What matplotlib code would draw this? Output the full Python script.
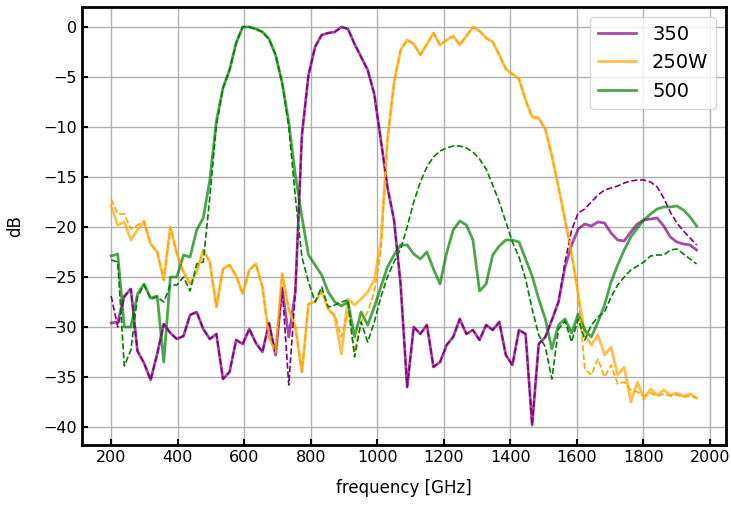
import matplotlib
matplotlib.use("Agg")
import matplotlib.pyplot as plt
import numpy as np

# frequency grid (90 points from 200 to 1960 GHz)
freq = np.linspace(200, 1960, 90)

# measured (solid) and simulated (dashed) transmission in dB
p350 = [-29.6, -29.5, -26.9, -26.2, -32.4, -33.6, -35.3, -32.7, -29.7, -30.6,
        -31.2, -30.9, -28.8, -28.5, -30.2, -31.2, -30.7, -35.2, -34.5, -31.3,
        -31.7, -30.2, -31.6, -32.5, -29.6, -32.8, -26.1, -31.0, -26.5, -10.8,
        -4.8, -2.0, -0.8, -0.6, -0.5, 0.0, -0.2, -1.7, -3.0, -4.3,
        -6.7, -11.3, -16.0, -19.3, -25.7, -36.0, -30.0, -30.7, -29.8, -34.0,
        -33.5, -31.8, -31.0, -29.2, -30.7, -30.3, -31.3, -29.8, -30.3, -29.5,
        -32.8, -33.8, -30.3, -30.7, -39.8, -31.7, -31.0, -29.3, -27.5, -24.0,
        -21.8, -20.2, -19.7, -19.9, -19.5, -19.6, -20.6, -21.3, -21.4, -20.5,
        -19.7, -19.3, -19.2, -19.1, -19.9, -21.0, -21.5, -21.7, -21.8, -22.3]
p350_sim = [-26.9, -30.0, -27.0, -26.2, -32.4, -33.6, -35.3, -32.7, -29.7, -30.6,
            -31.2, -30.9, -28.8, -28.5, -30.2, -31.2, -30.7, -35.2, -34.5, -31.3,
            -31.7, -30.2, -31.6, -32.5, -29.6, -32.8, -26.1, -35.8, -26.5, -10.8,
            -4.8, -2.0, -0.8, -0.6, -0.5, 0.0, -0.2, -1.7, -3.0, -4.3,
            -6.7, -11.3, -16.0, -19.3, -25.7, -36.0, -30.0, -30.7, -29.8, -34.0,
            -33.5, -31.8, -31.0, -29.2, -30.7, -30.3, -31.3, -29.8, -30.3, -29.5,
            -32.8, -33.8, -30.3, -30.7, -39.8, -31.7, -31.0, -29.3, -27.5, -23.5,
            -20.3, -18.6, -18.2, -17.5, -16.8, -16.3, -16.1, -15.9, -15.6, -15.4,
            -15.3, -15.3, -15.5, -16.0, -17.1, -18.5, -19.6, -20.4, -21.1, -21.8]

p250w = [-17.9, -19.8, -19.5, -21.3, -20.3, -19.5, -21.7, -22.5, -25.3, -20.0,
         -22.7, -24.5, -25.7, -24.5, -22.3, -23.5, -28.0, -24.2, -23.8, -24.9,
         -26.7, -24.3, -23.7, -26.0, -31.0, -32.6, -24.7, -28.2, -30.0, -34.5,
         -27.7, -27.5, -26.4, -28.2, -29.0, -32.7, -27.2, -27.8, -27.2, -26.5,
         -25.3, -21.5, -11.3, -5.6, -2.3, -1.3, -1.7, -2.8, -1.7, -0.6,
         -1.8, -1.3, -0.9, -1.8, -0.9, 0.0, -0.4, -1.1, -1.5, -2.8,
         -4.2, -4.7, -5.2, -7.3, -9.0, -9.1, -10.2, -12.9, -16.0, -19.3,
         -22.7, -26.7, -30.7, -31.8, -30.8, -32.8, -32.0, -34.8, -34.0, -37.5,
         -35.5, -37.2, -36.2, -36.8, -36.3, -36.8, -36.6, -36.9, -36.7, -37.1]
p250w_sim = [-17.2, -18.7, -18.7, -20.2, -19.8, -19.4, -21.7, -22.5, -25.3, -20.0,
             -22.7, -24.5, -25.7, -24.5, -22.3, -23.5, -28.0, -24.2, -23.8, -24.9,
             -26.7, -24.3, -23.7, -26.0, -31.0, -32.6, -24.7, -28.2, -30.0, -34.5,
             -27.7, -27.5, -26.4, -28.2, -28.8, -31.0, -28.5, -32.5, -29.5, -28.5,
             -26.5, -22.5, -11.3, -5.6, -2.3, -1.3, -1.7, -2.8, -1.7, -0.6,
             -1.8, -1.3, -0.9, -1.8, -0.9, 0.0, -0.4, -1.1, -1.5, -2.8,
             -4.2, -4.7, -5.2, -7.3, -9.0, -9.1, -10.2, -12.9, -16.0, -19.3,
             -22.7, -26.7, -34.2, -34.8, -33.2, -35.0, -33.8, -35.7, -35.5, -36.3,
             -36.5, -36.9, -36.6, -36.9, -36.7, -36.9, -36.8, -37.0, -36.9, -37.1]

p500 = [-22.9, -22.7, -30.0, -30.0, -26.7, -25.7, -27.1, -26.9, -33.5, -25.0,
        -25.0, -22.8, -23.0, -20.3, -19.1, -15.3, -9.4, -6.1, -4.3, -1.6,
        0.0, 0.0, -0.2, -0.5, -1.2, -2.8, -5.6, -9.5, -14.8, -19.0,
        -22.8, -23.8, -24.8, -26.5, -27.5, -27.9, -27.5, -31.0, -28.5, -29.8,
        -28.0, -26.0, -24.0, -22.8, -21.8, -21.8, -22.7, -23.2, -22.5, -24.2,
        -25.7, -22.6, -20.3, -19.4, -19.8, -21.3, -26.4, -25.7, -22.8, -21.9,
        -21.3, -21.3, -21.5, -23.2, -24.9, -27.2, -29.2, -32.2, -29.8, -29.2,
        -30.6, -28.7, -30.3, -31.0, -29.5, -27.8, -25.5, -23.8, -22.3, -21.0,
        -20.1, -19.3, -18.7, -18.2, -18.0, -18.0, -17.9, -18.3, -19.0, -19.9]
p500_sim = [-23.3, -23.5, -33.9, -32.3, -27.0, -25.8, -27.2, -27.0, -27.5, -25.8,
            -25.8, -25.0, -26.4, -23.7, -23.5, -17.0, -9.8, -6.1, -4.3, -1.6,
            0.0, 0.0, -0.2, -0.5, -1.2, -2.8, -5.6, -10.0, -17.0, -23.0,
            -25.5, -27.5, -26.0, -28.0, -27.8, -27.5, -27.3, -33.0, -29.5, -31.5,
            -29.5, -27.0, -25.0, -23.5, -22.2, -20.0, -17.5, -15.5, -14.0, -13.0,
            -12.4, -12.1, -11.9, -11.9, -12.1, -12.5, -13.2, -14.2, -15.8, -17.5,
            -19.5, -21.5, -23.0, -25.2, -28.2, -30.8, -32.0, -35.2, -30.2, -29.4,
            -31.5, -29.2, -31.3, -29.8, -29.0, -28.5, -27.0, -25.8, -25.0, -24.3,
            -23.9, -23.5, -22.9, -22.8, -22.8, -22.3, -22.2, -22.7, -23.2, -23.7]

labels = ["350", "250W", "500"]
colors = ["purple", "orange", "green"]
measured = [p350, p250w, p500]
simulated = [p350_sim, p250w_sim, p500_sim]

fig = plt.figure(figsize=(7.31, 5.05), dpi=100)
ax = fig.add_axes([0.112, 0.119, 0.881, 0.867])

for lab, col, meas in zip(labels, colors, measured):
    ax.plot(freq, meas, color=col, lw=2, alpha=0.7, label=lab)
for col, sim in zip(colors, simulated):
    ax.plot(freq, sim, color=col, lw=1.2, ls="--")

ax.grid(True, color="#b0b0b0", lw=1)
ax.set_axisbelow(True)
ax.tick_params(direction="in", labelsize=11.5, length=4, width=1.5)
for s in ax.spines.values():
    s.set_linewidth(2)
ax.set_xticks(np.arange(200, 2001, 200))
ax.set_yticks(np.arange(-40, 1, 5))
ax.set_xlabel("frequency [GHz]", fontsize=12, labelpad=10)
ax.set_ylabel("dB", fontsize=12, labelpad=14)
ax.legend(loc="upper right", fontsize=14)

fig.savefig("out.png", dpi=100)
